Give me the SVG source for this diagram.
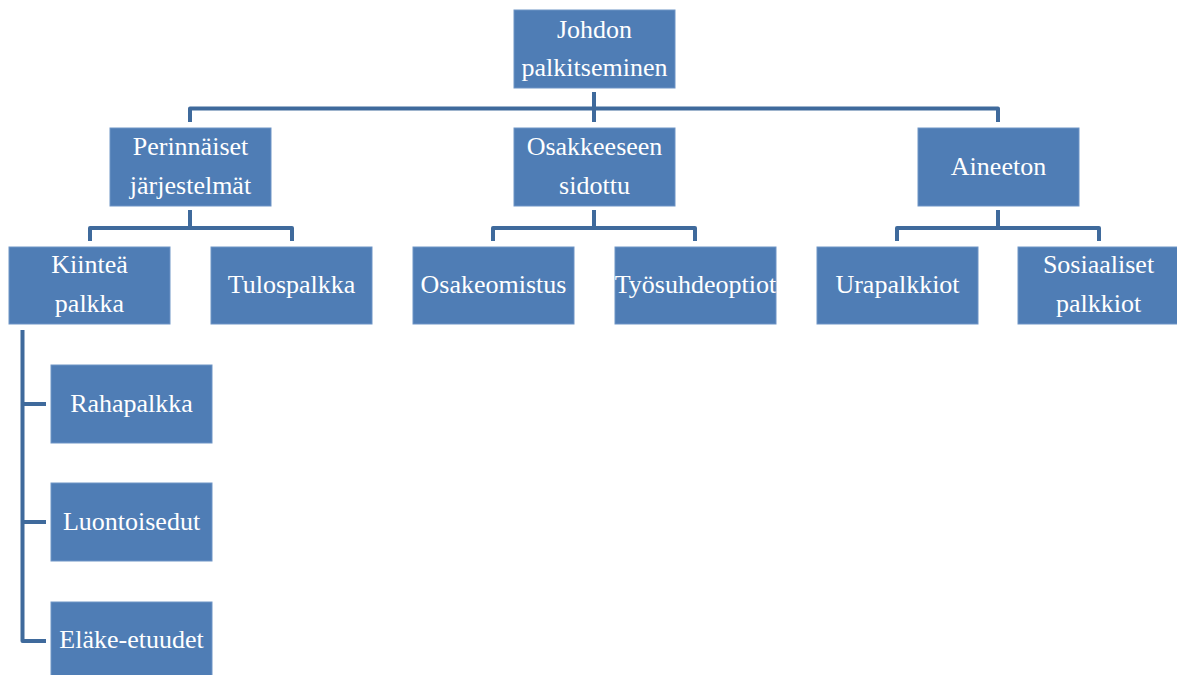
<svg xmlns="http://www.w3.org/2000/svg" width="1177" height="675" viewBox="0 0 1177 675">
<style>
.box{fill:#4F7DB5;stroke:#6F95C6;stroke-width:1}
.t{font-family:"Liberation Serif","Times New Roman",serif;font-size:26px;fill:#ffffff;text-anchor:middle}
.c{fill:none;stroke:#3F6A9C;stroke-width:4;stroke-linejoin:round}
</style>
<rect width="1177" height="675" fill="#ffffff"/>
<g id="connectors">
<path class="c" d="M594 92V122M190 122V108.5H998V122"/>
<path class="c" d="M190 210V228M90 241V228H292V241"/>
<path class="c" d="M594 210V228M493 241V228H695V241"/>
<path class="c" d="M998 210V228M897 241V228H1099V241"/>
<path class="c" d="M22.5 330V641H46M22.5 404H46M22.5 522H46"/>
</g>
<g id="n-root"><rect class="box" x="514" y="10" width="161" height="78"/><text class="t" x="594.5" y="38">Johdon</text><text class="t" x="594.5" y="76">palkitseminen</text></g>
<g id="n-perinnaiset"><rect class="box" x="110" y="128" width="161" height="78"/><text class="t" x="190.5" y="155">Perinnäiset</text><text class="t" x="190.5" y="194">järjestelmät</text></g>
<g id="n-osakkeeseen"><rect class="box" x="514" y="128" width="161" height="78"/><text class="t" x="594.5" y="155">Osakkeeseen</text><text class="t" x="594.5" y="194">sidottu</text></g>
<g id="n-aineeton"><rect class="box" x="918" y="128" width="161" height="78"/><text class="t" x="998.5" y="175">Aineeton</text></g>
<g id="n-kiintea"><rect class="box" x="9" y="247" width="161" height="77"/><text class="t" x="89.5" y="273">Kiinteä</text><text class="t" x="89.5" y="312">palkka</text></g>
<g id="n-tulospalkka"><rect class="box" x="211" y="247" width="161" height="77"/><text class="t" x="291.5" y="293">Tulospalkka</text></g>
<g id="n-osakeomistus"><rect class="box" x="413" y="247" width="161" height="77"/><text class="t" x="493.5" y="293">Osakeomistus</text></g>
<g id="n-tyosuhdeoptiot"><rect class="box" x="615" y="247" width="161" height="77"/><text class="t" x="695.5" y="293">Työsuhdeoptiot</text></g>
<g id="n-urapalkkiot"><rect class="box" x="817" y="247" width="161" height="77"/><text class="t" x="897.5" y="293">Urapalkkiot</text></g>
<g id="n-sosiaaliset"><rect class="box" x="1018" y="247" width="161" height="77"/><text class="t" x="1098.5" y="273">Sosiaaliset</text><text class="t" x="1098.5" y="312">palkkiot</text></g>
<g id="n-rahapalkka"><rect class="box" x="51" y="365" width="161" height="78"/><text class="t" x="131.5" y="412">Rahapalkka</text></g>
<g id="n-luontoisedut"><rect class="box" x="51" y="483" width="161" height="78"/><text class="t" x="131.5" y="530">Luontoisedut</text></g>
<g id="n-elake"><rect class="box" x="51" y="602" width="161" height="78"/><text class="t" x="131.5" y="648">Eläke-etuudet</text></g>
</svg>
